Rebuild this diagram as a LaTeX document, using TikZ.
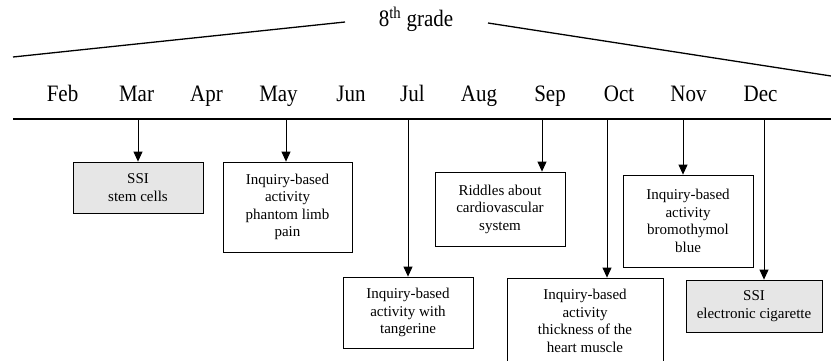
\documentclass[tikz,border=0pt]{standalone}
\usepackage{graphicx}
\usepackage{fontspec}
\setmainfont{Liberation Serif}
\usetikzlibrary{arrows.meta,positioning}
\definecolor{softgray}{RGB}{230,230,230}
\newcommand{\tallm}[1]{\scalebox{1}[1.12]{#1}}

\begin{document}
\begin{tikzpicture}[x=1pt, y=-1pt,
  month/.style={font=\fontsize{21}{24}\selectfont, anchor=base, inner sep=0pt},
  event/.style={draw, line width=0.8pt, fill=white, align=center, inner sep=0pt, font=\fontsize{15}{17.5}\selectfont},
  ssi/.style={event, fill=softgray},
  down/.style={-{Triangle[width=9pt,length=10pt]}, line width=0.8pt}]
\useasboundingbox (0,0) rectangle (831,361);
% grade bracket
\node[month] (grade) at (416,27) {\tallm{8\textsuperscript{th} grade}};
\coordinate (gl1) at (13,57);
\coordinate (gl2) at (345,22);
\coordinate (gr1) at (488,23);
\coordinate (gr2) at (831,76);
\draw[line width=1.3pt] (gl1) -- (gl2);
\draw[line width=1.3pt] (gr1) -- (gr2);
% months
\node[month] (feb) at (62.5,102) {\tallm{Feb}};
\node[month] (mar) at (136.5,102) {\tallm{Mar}};
\node[month] (apr) at (206.5,102) {\tallm{Apr}};
\node[month] (may) at (278.5,102) {\tallm{May}};
\node[month] (jun) at (351,102) {\tallm{Jun}};
\node[month] (jul) at (412.5,102) {\tallm{Jul}};
\node[month] (aug) at (479,102) {\tallm{Aug}};
\node[month] (sep) at (550,102) {\tallm{Sep}};
\node[month] (oct) at (619,102) {\tallm{Oct}};
\node[month] (nov) at (688.5,102) {\tallm{Nov}};
\node[month] (dec) at (760.5,102) {\tallm{Dec}};
% time line
\coordinate (tl1) at (13,119);
\coordinate (tl2) at (831,119);
\draw[line width=1.3pt] (tl1) -- (tl2);
% events
\node[ssi, minimum width=130pt, minimum height=51pt] (stem) at (138,187.5) {SSI\\stem cells};
\node[event, minimum width=129pt, minimum height=90pt] (limb) at (287.5,207) {Inquiry-based\\activity\\phantom limb\\pain};
\node[event, minimum width=130pt, minimum height=71pt] (tang) at (408,312.5) {Inquiry-based\\activity with\\tangerine};
\node[event, minimum width=130pt, minimum height=74pt] (riddle) at (500,209) {Riddles about\\cardiovascular\\system};
\node[event, minimum width=156pt, minimum height=86pt] (heart) at (585,321) {Inquiry-based\\activity\\thickness of the\\heart muscle};
\node[event, minimum width=130pt, minimum height=92pt] (bromo) at (688,221) {Inquiry-based\\activity\\bromothymol\\blue};
\node[ssi, minimum width=136pt, minimum height=52pt] (cig) at (754,306) {SSI\\electronic cigarette};
% arrows
\coordinate (amar) at (138,119);
\coordinate (amay) at (286,119);
\coordinate (ajul) at (408,119);
\coordinate (asep) at (542,119);
\coordinate (aoct) at (607,119);
\coordinate (anov) at (683,119);
\coordinate (adec) at (764,119);
\draw[down] (amar) -- (amar |- stem.north);
\draw[down] (amay) -- (amay |- limb.north);
\draw[down] (ajul) -- (ajul |- tang.north);
\draw[down] (asep) -- (asep |- riddle.north);
\draw[down] (aoct) -- (aoct |- heart.north);
\draw[down] (anov) -- (anov |- bromo.north);
\draw[down] (adec) -- (adec |- cig.north);
\end{tikzpicture}
\end{document}
